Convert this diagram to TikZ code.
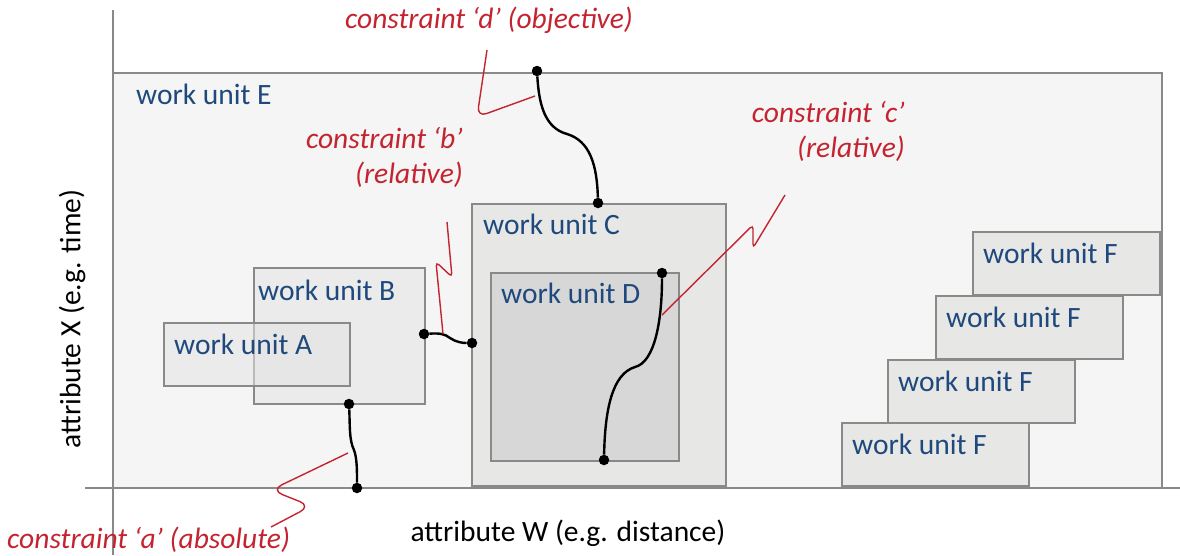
\documentclass[tikz,border=0pt]{standalone}
\usepackage{fontspec}
\setmainfont{Carlito}
\usetikzlibrary{positioning}

\definecolor{unittext}{RGB}{31,73,125}
\definecolor{constraintred}{RGB}{196,36,48}
\definecolor{unitframe}{RGB}{137,137,137}
\definecolor{outerfill}{RGB}{244,245,244}
\definecolor{unitfill}{RGB}{231,231,230}
\definecolor{innerfill}{RGB}{215,215,215}

\begin{document}
\begin{tikzpicture}[x=1pt, y=-1pt,
	unit/.style={draw=unitframe, line width=1.8pt, anchor=north west, inner sep=0pt, outer sep=0pt},
	overlap/.style={fill=black!11, fill opacity=0.55},
	unitname/.style={anchor=base west, text=unittext, font=\fontsize{29.5}{35}\selectfont, inner sep=0pt},
	note/.style={text=constraintred, font=\fontsize{29.5}{35}\selectfont\itshape, inner sep=0pt},
	axislabel/.style={text=black, font=\fontsize{29.5}{35}\selectfont, inner sep=0pt},
	leader/.style={draw=constraintred, line width=1.4pt},
	link/.style={draw=black, line width=2.4pt},
	dot/.style={circle, fill=black, inner sep=0pt, minimum size=10.5pt},
	axis/.style={draw=unitframe, line width=2.2pt}]

	\useasboundingbox (0,0) rectangle (1180,555);

	% work unit E and the axes
	\node[unit, fill=outerfill, minimum width=1049, minimum height=415] (unitE) at (113,73) {};
	\coordinate (xTop) at (113,10);
	\coordinate (xFoot) at (113,555);
	\coordinate (wLeft) at (85,488);
	\coordinate (wRight) at (1180,488);
	\draw[axis] (xTop) -- (xFoot);
	\draw[axis] (wLeft) -- (wRight);

	\node[unit, fill=unitfill, minimum width=254, minimum height=282] (unitC) at (472,204) {};
	\node[unit, fill=innerfill, minimum width=188, minimum height=188] (unitD) at (491,273) {};
	\node[unit, overlap, minimum width=171, minimum height=136] (unitB) at (254,268) {};
	\node[unit, overlap, minimum width=186, minimum height=63] (unitA) at (164,323) {};
	\foreach \fx/\fy [count=\i] in {973/232, 936/296, 888/360, 842/423} {
		\node[unit, fill=unitfill, minimum width=187, minimum height=63] (unitF\i) at (\fx,\fy) {};
		\node[unitname] (nameF\i) at ([shift={(10,31)}]unitF\i.north west) {work unit F};
	}

	\node[unitname] (nameE) at ([shift={(23,31)}]unitE.north west) {work unit E};
	\node[unitname] (nameC) at ([shift={(11,30)}]unitC.north west) {work unit C};
	\node[unitname] (nameD) at ([shift={(10,30)}]unitD.north west) {work unit D};
	\node[unitname] (nameB) at ([shift={(4,32)}]unitB.north west) {work unit B};
	\node[unitname] (nameA) at ([shift={(10,31)}]unitA.north west) {work unit A};

	% constraint end points
	\node[dot] (dTop) at (537,71) {};
	\node[dot] (dBot) at (598,203) {};
	\node[dot] (bRight) at (424,334) {};
	\node[dot] (cLeft) at (472,343) {};
	\node[dot] (dInTop) at (662,273) {};
	\node[dot] (dInBot) at (604,460) {};
	\node[dot] (bFoot) at (349,404) {};
	\node[dot] (aBase) at (357,488) {};

	\draw[link] (dTop) .. controls (539,105) and (545,128) .. (567,134) .. controls (590,141) and (597,165) .. (dBot);
	\draw[link] (bRight) .. controls (440,333) and (445,334) .. (450,338) .. controls (456,342) and (462,343) .. (cLeft);
	\draw[link] (dInTop) .. controls (662,320) and (655,362) .. (635,367) .. controls (612,374) and (605,410) .. (dInBot);
	\draw[link] (bFoot) .. controls (350,425) and (349,440) .. (354,450) .. controls (357,458) and (357,470) .. (aBase);

	% red leaders
	\coordinate (aTail) at (348,453);
	\coordinate (aEnd) at (271,527);
	\coordinate (bStart) at (447,222);
	\coordinate (bTail) at (443,334);
	\coordinate (cStart) at (785,195);
	\coordinate (cTail) at (662,315);
	\coordinate (dStart) at (487,50);
	\coordinate (dTail) at (535,96);
	\draw[leader, rounded corners=12pt] (aTail) -- (271,490) -- (311,506) -- (aEnd);
	\draw[leader, rounded corners=4pt] (bStart) -- (452,277) -- (436,262) -- (bTail);
	\draw[leader, rounded corners=4pt] (cStart) -- (753,248) -- (753,225) -- (cTail);
	\draw[leader, rounded corners=10pt] (dStart) -- (477,117) -- (dTail);

	\node[note, anchor=base] (noteD) at (489,28) {constraint ‘d’ (objective)};
	\node[note, anchor=base east] (noteB) at (463,148) {constraint ‘b’};
	\node[note, anchor=base east] (noteBrel) at ([yshift=-35pt]noteB.base east) {(relative)};
	\node[note, anchor=base east] (noteC) at (905,122) {constraint ‘c’};
	\node[note, anchor=base east] (noteCrel) at ([yshift=-35pt]noteC.base east) {(relative)};
	\node[note, anchor=base west] (noteA) at (7,548) {constraint ‘a’ (absolute)};

	\node[axislabel, anchor=base] (labelW) at (568,541) {attribute W (e.g. distance)};
	\node[axislabel, rotate=90] (labelX) at (72,319) {attribute X (e.g. time)};
\end{tikzpicture}
\end{document}
